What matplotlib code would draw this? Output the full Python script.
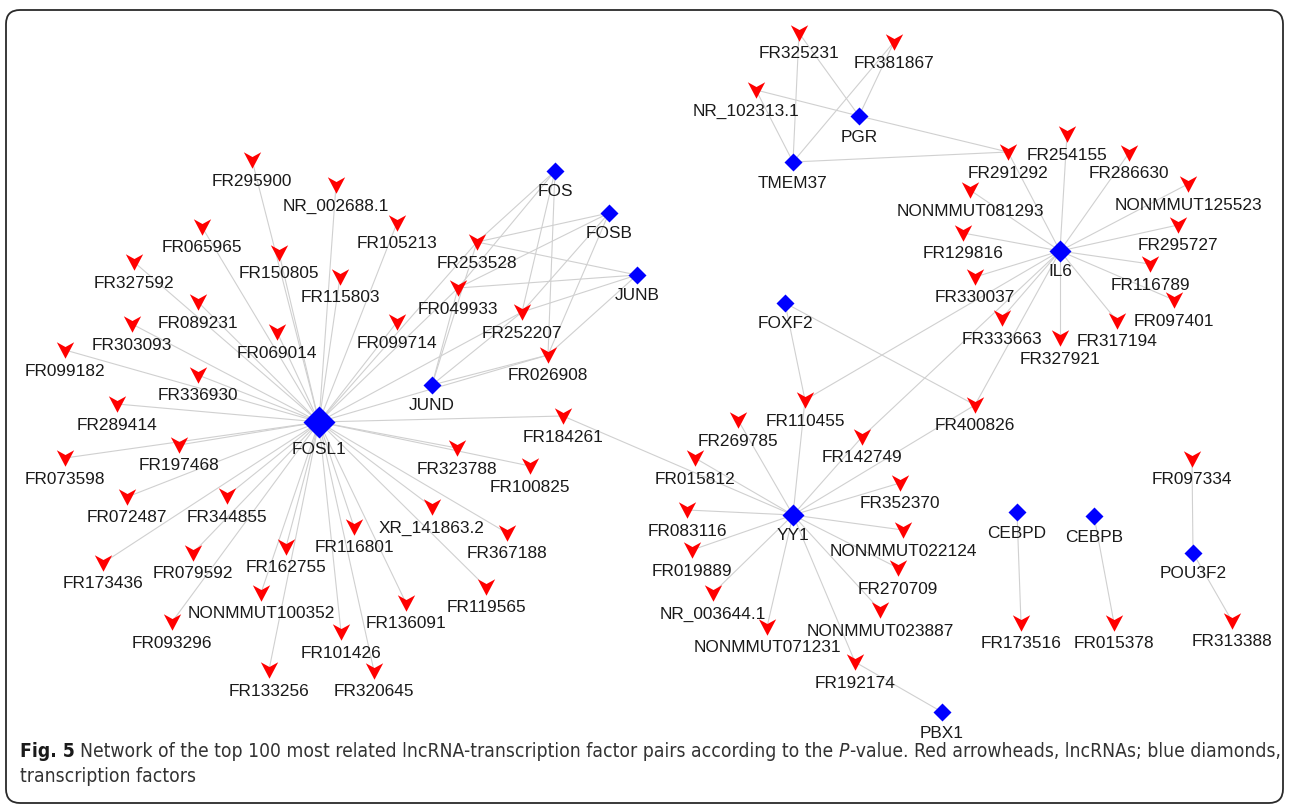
import matplotlib
matplotlib.use("Agg")
import matplotlib.pyplot as plt
from matplotlib.path import Path
from matplotlib.patches import FancyBboxPatch
from matplotlib import font_manager

# lncRNAs (red arrowheads), layout position in the network picture
lnc_names = [
    "FR295900", "NR_002688.1", "FR105213", "FR065965", "FR150805", "FR327592",
    "FR115803", "FR089231", "FR303093", "FR069014", "FR099714", "FR099182",
    "FR336930", "FR289414", "FR197468", "FR073598", "FR072487", "FR344855",
    "FR173436", "FR079592", "FR162755", "FR116801", "XR_141863.2", "FR367188",
    "FR323788", "FR100825", "NONMMUT100352", "FR093296", "FR133256", "FR101426",
    "FR320645", "FR136091", "FR119565", "FR184261",
    "FR253528", "FR049933", "FR252207", "FR026908",
    "FR325231", "FR381867", "NR_102313.1", "FR291292",
    "FR254155", "FR286630", "NONMMUT081293", "NONMMUT125523", "FR129816",
    "FR295727", "FR330037", "FR116789", "FR097401", "FR333663", "FR327921",
    "FR317194",
    "FR110455", "FR142749", "FR400826",
    "FR269785", "FR015812", "FR083116", "FR019889", "NR_003644.1",
    "NONMMUT071231", "FR192174", "NONMMUT023887", "FR270709", "NONMMUT022124",
    "FR352370",
    "FR173516", "FR015378", "FR097334", "FR313388",
]
lnc_x = [
    252, 336, 397, 202, 279, 134,
    340, 198, 132, 277, 397, 65,
    198, 117, 179, 65, 127, 227,
    103, 193, 286, 354, 432, 507,
    457, 530, 261, 172, 269, 341,
    374, 406, 486, 563,
    477, 458, 522, 548,
    799, 894, 756, 1008,
    1067, 1129, 970, 1188, 963,
    1178, 975, 1150, 1174, 1002, 1060,
    1117,
    805, 862, 975,
    738, 695, 687, 692, 713,
    767, 855, 880, 898, 903,
    900,
    1021, 1114, 1192, 1232,
]
lnc_y = [
    160, 185, 223, 227, 253, 262,
    277, 302, 324, 332, 322, 350,
    375, 404, 445, 458, 497, 496,
    563, 553, 547, 527, 507, 533,
    448, 466, 593, 622, 670, 632,
    671, 603, 587, 416,
    242, 288, 312, 355,
    33, 42, 90, 152,
    134, 153, 190, 184, 233,
    225, 277, 264, 300, 318, 338,
    321,
    400, 437, 405,
    420, 458, 510, 550, 593,
    627, 662, 610, 568, 530,
    483,
    623, 623, 459, 621,
]

# transcription factors (blue diamonds)
tf_names = ["FOSL1", "FOS", "FOSB", "JUNB", "JUND", "PGR", "TMEM37", "IL6",
            "FOXF2", "YY1", "PBX1", "CEBPD", "CEBPB", "POU3F2"]
tf_x = [319, 555, 609, 637, 432, 859, 793, 1060, 785, 793, 942, 1017, 1094, 1193]
tf_y = [422, 171, 213, 275, 385, 116, 162, 251, 303, 515, 712, 512, 516, 553]
tf_size = [16.3, 9.2, 9.2, 9.2, 9.2, 9.2, 9.2, 11.6, 9.2, 11.3, 9.2, 9.2, 9.2, 9.2]

# lncRNA-TF pairs, grouped by TF
fosl1_lnc = lnc_names[:38]
ap1_lnc = ["FR253528", "FR049933", "FR252207", "FR026908"]
pgr_lnc = ["FR325231", "FR381867", "NR_102313.1", "FR291292"]
tmem37_lnc = ["FR325231", "FR381867", "NR_102313.1", "FR291292"]
il6_lnc = ["FR254155", "FR291292", "FR286630", "NONMMUT081293", "NONMMUT125523",
           "FR129816", "FR295727", "FR330037", "FR116789", "FR097401",
           "FR333663", "FR327921", "FR317194", "FR110455", "FR142749", "FR400826"]
foxf2_lnc = ["FR110455", "FR400826"]
yy1_lnc = ["FR269785", "FR015812", "FR083116", "FR019889", "NR_003644.1",
           "NONMMUT071231", "FR192174", "NONMMUT023887", "FR270709",
           "NONMMUT022124", "FR352370", "FR142749", "FR110455", "FR400826",
           "FR184261"]
pbx1_lnc = ["FR192174"]
cebpd_lnc = ["FR173516"]
cebpb_lnc = ["FR015378"]
pou3f2_lnc = ["FR097334", "FR313388"]

pairs = [("FOSL1", n) for n in fosl1_lnc]
for tf in ["FOS", "FOSB", "JUNB", "JUND"]:
    pairs += [(tf, n) for n in ap1_lnc]
pairs += [("PGR", n) for n in pgr_lnc]
pairs += [("TMEM37", n) for n in tmem37_lnc]
pairs += [("IL6", n) for n in il6_lnc]
pairs += [("FOXF2", n) for n in foxf2_lnc]
pairs += [("YY1", n) for n in yy1_lnc]
pairs += [("PBX1", n) for n in pbx1_lnc]
pairs += [("CEBPD", n) for n in cebpd_lnc]
pairs += [("CEBPB", n) for n in cebpb_lnc]
pairs += [("POU3F2", n) for n in pou3f2_lnc]

caption_1 = [("Fig. 5", "bold"),
             ("Network of the top 100 most related lncRNA-transcription factor pairs according to the", "normal"),
             ("P", "italic"),
             ("-value. Red arrowheads, lncRNAs; blue diamonds,", "normal")]
caption_2 = [("transcription factors", "normal")]

pos = {}
for n, x, y in zip(lnc_names, lnc_x, lnc_y):
    pos[n] = (x, y)
for n, x, y in zip(tf_names, tf_x, tf_y):
    pos[n] = (x, y)

W, H = 1289, 810
fig = plt.figure(figsize=(W / 100, H / 100), dpi=100)
ax = fig.add_axes([0, 0, 1, 1])
ax.set_xlim(0, W)
ax.set_ylim(H, 0)
ax.axis("off")

label_font = ["Liberation Sans", "Arial", "DejaVu Sans"]

# edges
for tf, n in pairs:
    (x0, y0), (x1, y1) = pos[tf], pos[n]
    ax.plot([x0, x1], [y0, y1], color="#d0d0d0", lw=0.8, zorder=1,
            solid_capstyle="butt")

# arrowhead marker, pointing down
arrow = Path([(-1.0, 0.95), (0.0, -0.95), (1.0, 0.95), (0.0, 0.4), (-1.0, 0.95)],
             [Path.MOVETO, Path.LINETO, Path.LINETO, Path.LINETO, Path.CLOSEPOLY])

ax.scatter(lnc_x, lnc_y, marker=arrow, s=12.5 ** 2, c="#ff0000",
           linewidths=0, zorder=3)
for n, x, y in zip(lnc_names, lnc_x, lnc_y):
    dx = -10 if n == "NR_102313.1" else 0
    ax.text(x + dx, y + 21, n, ha="center", va="center", fontsize=12.4,
            family=label_font, color="#1a1a1a", zorder=4)

for n, x, y, s in zip(tf_names, tf_x, tf_y, tf_size):
    ax.plot([x], [y], marker="D", ms=s, color="#0000ff", mec="none", zorder=3)
    dy = 28 if n == "FOSL1" else 21
    ax.text(x, y + dy, n, ha="center", va="center", fontsize=12.4,
            family=label_font, color="#1a1a1a", zorder=4)

# rounded frame
frame = FancyBboxPatch((6, 10), 1277, 793,
                       boxstyle="round,pad=0,rounding_size=14",
                       fill=False, ec="#2a2a2a", lw=1.3, zorder=5)
ax.add_patch(frame)

# caption
try:
    font_manager.findfont("Liberation Sans Narrow", fallback_to_default=False)
    cap_font = "Liberation Sans Narrow"
    cap_stretch = "normal"
except Exception:
    cap_font = "DejaVu Sans"
    cap_stretch = "condensed"

renderer = fig.canvas.get_renderer()


def text_width(t):
    bb = t.get_window_extent(renderer=renderer)
    return bb.width


def draw_runs(runs, x0, y0, size):
    made = []
    x = x0
    sp = ax.text(0, 0, "x x", fontsize=size, family=cap_font, fontstretch=cap_stretch)
    sp2 = ax.text(0, 0, "xx", fontsize=size, family=cap_font, fontstretch=cap_stretch)
    space = text_width(sp) - text_width(sp2)
    sp.remove()
    sp2.remove()
    for i, (s, style) in enumerate(runs):
        kw = dict(fontsize=size, family=cap_font, fontstretch=cap_stretch,
                  color="#333333", va="baseline", ha="left")
        if style == "bold":
            kw["fontweight"] = "bold"
            kw["color"] = "#1a1a1a"
        if style == "italic":
            kw["fontstyle"] = "italic"
        t = ax.text(x, y0, s, **kw)
        made.append(t)
        x += text_width(t)
        nxt = runs[i + 1][0] if i + 1 < len(runs) else ""
        if not (nxt.startswith("-") or s == "P"):
            x += space
    return made, x - space - x0


size = 13.0
items, width = draw_runs(caption_1, 20, 757, size)
for t in items:
    t.remove()
size = size * 1256 / width
items, width = draw_runs(caption_1, 20, 757, size)
draw_runs(caption_2, 20, 782, size)

fig.savefig("out.png", dpi=100)
